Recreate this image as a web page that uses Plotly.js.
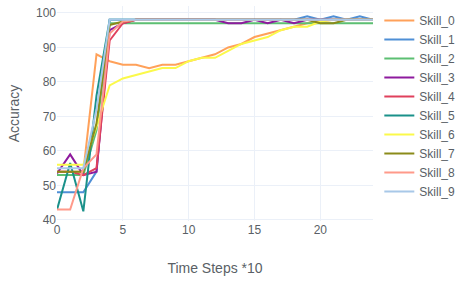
<!DOCTYPE html>
<html>
<head>
<meta charset="utf-8">
<script src="https://cdn.plot.ly/plotly-3.0.1.min.js"></script>
<style>html,body{margin:0;padding:0;background:#fff;}#chart{width:456px;height:282px;}</style>
</head>
<body>
<div id="chart"></div>
<script>
const timeSteps = [0,1,2,3,4,5,6,7,8,9,10,11,12,13,14,15,16,17,18,19,20,21,22,23,24];
const seriesNames = ["Skill_0","Skill_1","Skill_2","Skill_3","Skill_4","Skill_5","Skill_6","Skill_7","Skill_8","Skill_9"];
const skill0 = [54,54,54,88,86,85,85,84,85,85,86,87,88,90,91,93,94,95,96,97,97.5,98,98,98,98];
const skill1 = [48,48,48,54,98,98,98,98,98,98,98,98,98,98,98,98,98,98,98,99,98,99,98,99,98];
const skill2 = [53,53,53,66,97,97,97,97,97,97,97,97,97,97,97,97,97,97,97,97,97,97,97,97,97];
const skill3 = [53.5,59,53,54,95,97,98,98,98,98,98,98,98,97,97,98,97,98,97,98,98,98,98,98,98];
const skill4 = [54,54,53,55,92,97,98,98,98,98,98,98,98,98,98,98,98,98,98,98,98,98,98,98,98];
const skill5 = [43,56.5,42.5,76,98,98,98,98,98,98,98,98,98,98,98,98,98,98,98,98,98,98,98,98,98];
const skill6 = [56,56,56,67,79,81,82,83,84,84,86,87,87,89,91,92,93,95,96,96,97.5,98,98,98,98];
const skill7 = [54,54,54,68,96.5,97.5,98,98,98,98,98,98,98,98,98,98,98,98,98,98,97,97,98,98,98];
const skill8 = [43,43,55,59,94,97.5,98,98,98,98,98,98,98,98,98,98,98,98,98,98,98,98,98,98,98];
const skill9 = [55,55,55,72,98,98,98,98,98,98,98,98,98,98,98,98,98,98,98,98,98,98,98,98,98];
const allSeries = [skill0,skill1,skill2,skill3,skill4,skill5,skill6,skill7,skill8,skill9];
const colors = ["#ffa15a","#4f8fd6","#5cbf72","#8e1a9e","#e0405c","#1a918a","#fbf94a","#8b8b1a","#ff9a8a","#a8c8e8"];

const traces = allSeries.map((ys, i) => ({
  x: timeSteps, y: ys, name: seriesNames[i], type: "scatter", mode: "lines",
  line: {color: colors[i], width: 2}
}));

const layout = {
  template: "plotly_white",
  width: 456, height: 282,
  margin: {l: 57, r: 83, t: 6, b: 61, autoexpand: false},
  font: {family: "Arial, Liberation Sans, sans-serif", size: 12, color: "#5a5f66"},
  paper_bgcolor: "#fff", plot_bgcolor: "#fff",
  xaxis: {title: {text: "Time Steps *10", font: {size: 14}}, range: [0, 24], tickvals: [0,5,10,15,20], gridcolor: "#ebf0f8", zeroline: false, showline: false},
  yaxis: {title: {text: "Accuracy", font: {size: 14}}, range: [39.7, 102], tickvals: [40,50,60,70,80,90,100], gridcolor: "#ebf0f8", zeroline: false, showline: false},
  legend: {x: 1.02, y: 1, font: {size: 12}},
  showlegend: true
};
Plotly.newPlot("chart", traces, layout, {displayModeBar: false, staticPlot: true});
</script>
</body>
</html>
